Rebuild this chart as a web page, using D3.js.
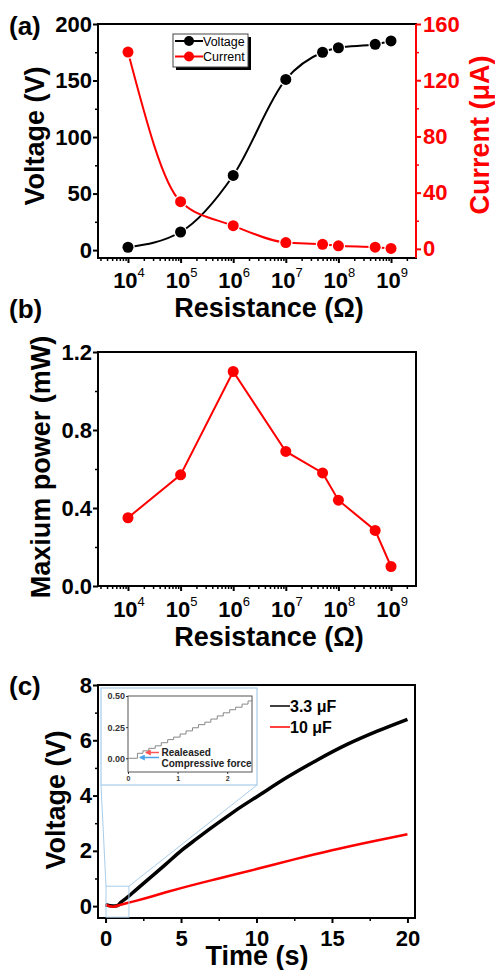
<!DOCTYPE html>
<html>
<head>
<meta charset="utf-8">
<script src="https://cdn.jsdelivr.net/npm/d3@7"></script>
<style>
body { margin: 0; background: #fff; }
svg text { font-family: "Liberation Sans", Arial, sans-serif; }
</style>
</head>
<body>
<div id="chart"></div>
<script>
// ---- data ----
var resistance = [1e4, 1e5, 1e6, 1e7, 5e7, 1e8, 5e8, 1e9];
var voltage = [2.5, 16, 66, 151, 175, 179, 182, 185];
var current = [140, 33.6, 16.5, 4.5, 3.2, 2.2, 1.2, 0.3];
var maxPower = [0.35, 0.57, 1.10, 0.69, 0.58, 0.44, 0.285, 0.10];

var decadeTicks = [1e4, 1e5, 1e6, 1e7, 1e8, 1e9];
var voltTicks = [0, 50, 100, 150, 200];
var currTicks = [0, 40, 80, 120, 160];
var powerTicks = [0, 0.4, 0.8, 1.2];

var timeBlack = [0, 0.5, 0.8, 1, 1.5, 2, 3, 4, 5, 6, 7, 8, 9, 10, 12, 14, 16, 18, 20];
var cap33 = [0.05, 0, 0.02, 0.13, 0.34, 0.58, 1.05, 1.52, 2.0, 2.42, 2.83, 3.22, 3.6, 3.95, 4.65, 5.28, 5.85, 6.33, 6.76];
var timeRed = [0, 0.5, 1, 1.5, 2, 3, 4, 5, 7.5, 10, 12.5, 15, 17.5, 20];
var cap10 = [0.05, -0.02, 0.05, 0.12, 0.19, 0.34, 0.5, 0.65, 1.0, 1.34, 1.69, 2.02, 2.32, 2.6];
var timeTicks = [0, 5, 10, 15, 20];
var chargeTicks = [0, 2, 4, 6, 8];

var insetTime = [0, 0.19, 0.30, 0.42, 0.55, 0.67, 0.80, 0.92, 1.05, 1.17, 1.30, 1.42, 1.55, 1.67, 1.80, 1.92, 2.05, 2.17, 2.30, 2.42, 2.5];
var insetLevel = [0, 0.04, 0.06, 0.08, 0.10, 0.125, 0.15, 0.17, 0.195, 0.22, 0.245, 0.27, 0.29, 0.315, 0.34, 0.365, 0.39, 0.41, 0.435, 0.46, 0.47];
var insetYTicks = [0, 0.25, 0.5];
var insetXTicks = [0, 1, 2];
var zoomTime = [0.03, 1.55];
var zoomVolt = [-0.4, 0.72];

var RED = "#ff0000";

var svg = d3.select("#chart").append("svg")
    .attr("width", 495)
    .attr("height", 970);

function frame(x0, x1, y0, y1) {
    svg.append("rect")
        .attr("x", x0).attr("y", y0)
        .attr("width", x1 - x0).attr("height", y1 - y0)
        .attr("fill", "none")
        .attr("stroke", "#000")
        .attr("stroke-width", 2);
}

function styleAxis(g, color, size) {
    g.select(".domain").remove();
    g.selectAll("line").attr("stroke", color).attr("stroke-width", 2);
    g.selectAll("text")
        .attr("fill", color)
        .style("font-size", size + "px")
        .style("font-weight", "bold");
}

function title(text, x, y, rotate, color) {
    svg.append("text")
        .attr("transform", "translate(" + x + "," + y + ")" + (rotate ? " rotate(-90)" : ""))
        .attr("text-anchor", "middle")
        .attr("fill", color || "#000")
        .style("font-size", "27px")
        .style("font-weight", "bold")
        .text(text);
}

function panelLabel(text, x, y) {
    svg.append("text").attr("x", x).attr("y", y)
        .style("font-size", "26px").style("font-weight", "bold").text(text);
}

function logAxis(x, yAxis, labelY) {
    var minor = x.ticks().filter(function(d) {
        return decadeTicks.indexOf(d) < 0;
    });
    var g = svg.append("g").attr("transform", "translate(0," + yAxis + ")");
    g.call(d3.axisBottom(x).tickValues(minor).tickSize(3).tickFormat(""));
    styleAxis(g, "#000", 10);
    g.selectAll("line").attr("stroke-width", 1.5);
    var g2 = svg.append("g").attr("transform", "translate(0," + yAxis + ")");
    g2.call(d3.axisBottom(x).tickValues(decadeTicks).tickSize(5).tickFormat(""));
    styleAxis(g2, "#000", 10);

    decadeTicks.forEach(function(d) {
        var t = svg.append("text")
            .attr("x", x(d) + 1).attr("y", labelY)
            .attr("text-anchor", "middle")
            .style("font-size", "22px").style("font-weight", "bold");
        t.append("tspan").text("10");
        t.append("tspan").attr("dy", -11).style("font-size", "13px").style("font-weight", "normal")
            .text(Math.round(Math.log10(d)));
    });
}

function minorTicks(scale, values, orient, pos, size, color) {
    var axis = orient === "left" ? d3.axisLeft(scale) : orient === "right" ? d3.axisRight(scale) : d3.axisBottom(scale);
    var g = svg.append("g").attr("transform", orient === "bottom" ? "translate(0," + pos + ")" : "translate(" + pos + ",0)");
    g.call(axis.tickValues(values).tickSize(size).tickFormat(""));
    styleAxis(g, color, 10);
    g.selectAll("line").attr("stroke-width", 1.5);
}

// ================= panel (a) =================
var xA = d3.scaleLog().domain([Math.pow(10, 3.43), Math.pow(10, 9.475)]).range([98, 416]);
var yV = d3.scaleLinear().domain([-7, 200]).range([258, 24]);
var yI = d3.scaleLinear().domain([-6.5, 160]).range([258, 24]);

frame(98, 416, 24, 258);
svg.append("line").attr("x1", 416).attr("x2", 416).attr("y1", 24).attr("y2", 258)
    .attr("stroke", RED).attr("stroke-width", 2);

var gVL = svg.append("g").attr("transform", "translate(98,0)");
gVL.call(d3.axisLeft(yV).tickValues(voltTicks).tickSize(5).tickPadding(1));
styleAxis(gVL, "#000", 22);
minorTicks(yV, [25, 75, 125, 175], "left", 98, 3, "#000");

var gIR = svg.append("g").attr("transform", "translate(416,0)");
gIR.call(d3.axisRight(yI).tickValues(currTicks).tickSize(5).tickPadding(2));
styleAxis(gIR, RED, 22);
minorTicks(yI, [20, 60, 100, 140], "right", 416, 3, RED);

logAxis(xA, 258, 288);

var lineV = d3.line().x(function(d, i) { return xA(resistance[i]); }).y(function(d) { return yV(d); }).curve(d3.curveMonotoneX);
var lineI = d3.line().x(function(d, i) { return xA(resistance[i]); }).y(function(d) { return yI(d); }).curve(d3.curveMonotoneX);

svg.append("path").datum(voltage).attr("d", lineV).attr("fill", "none").attr("stroke", "#000").attr("stroke-width", 2);
svg.append("path").datum(current).attr("d", lineI).attr("fill", "none").attr("stroke", RED).attr("stroke-width", 2);

svg.selectAll(".dotV").data(voltage).enter().append("circle")
    .attr("cx", function(d, i) { return xA(resistance[i]); })
    .attr("cy", function(d) { return yV(d); })
    .attr("r", 5.5).attr("fill", "#000").attr("stroke", "#fff").attr("stroke-width", 2.5)
    .attr("paint-order", "stroke");
svg.selectAll(".dotI").data(current).enter().append("circle")
    .attr("cx", function(d, i) { return xA(resistance[i]); })
    .attr("cy", function(d) { return yI(d); })
    .attr("r", 5.5).attr("fill", RED).attr("stroke", "#fff").attr("stroke-width", 2.5)
    .attr("paint-order", "stroke");

// legend (a)
svg.append("rect").attr("x", 176).attr("y", 37).attr("width", 75).attr("height", 33).attr("fill", "#000");
svg.append("rect").attr("x", 173).attr("y", 34).attr("width", 75).attr("height", 33)
    .attr("fill", "#fff").attr("stroke", "#444").attr("stroke-width", 1);
[["Voltage", "#000", 41], ["Current", RED, 56.5]].forEach(function(e) {
    svg.append("line").attr("x1", 175).attr("x2", 203).attr("y1", e[2]).attr("y2", e[2])
        .attr("stroke", e[1]).attr("stroke-width", 2);
    svg.append("circle").attr("cx", 189).attr("cy", e[2]).attr("r", 5).attr("fill", e[1]);
    svg.append("text").attr("x", 203).attr("y", e[2] + 4.5)
        .style("font-size", "12.5px").text(e[0]);
});

panelLabel("(a)", 9, 35);
title("Voltage (V)", 44, 136, true);
title("Current (\u03bcA)", 489, 135, true, RED);
title("Resistance (\u03a9)", 269, 317);

// ================= panel (b) =================
var yP = d3.scaleLinear().domain([0, 1.2]).range([586, 352]);
frame(98, 416, 352, 586);

var gPL = svg.append("g").attr("transform", "translate(98,0)");
gPL.call(d3.axisLeft(yP).tickValues(powerTicks).tickSize(5).tickPadding(1).tickFormat(d3.format(".1f")));
styleAxis(gPL, "#000", 22);
minorTicks(yP, [0.2, 0.6, 1.0], "left", 98, 3, "#000");

logAxis(xA, 586, 617);

var lineP = d3.line().x(function(d, i) { return xA(resistance[i]); }).y(function(d) { return yP(d); });
svg.append("path").datum(maxPower).attr("d", lineP).attr("fill", "none").attr("stroke", RED).attr("stroke-width", 2);
svg.selectAll(".dotP").data(maxPower).enter().append("circle")
    .attr("cx", function(d, i) { return xA(resistance[i]); })
    .attr("cy", function(d) { return yP(d); })
    .attr("r", 5.5).attr("fill", RED);

panelLabel("(b)", 9, 318);
title("Maxium power (mW)", 50, 467, true);
title("Resistance (\u03a9)", 269, 646);

// ================= panel (c) =================
var xT = d3.scaleLinear().domain([-0.5, 20.5]).range([98, 415]);
var yC = d3.scaleLinear().domain([-0.43, 8]).range([918, 685]);
frame(98, 415, 685, 918);

var gCL = svg.append("g").attr("transform", "translate(98,0)");
gCL.call(d3.axisLeft(yC).tickValues(chargeTicks).tickSize(5).tickPadding(1));
styleAxis(gCL, "#000", 22);
minorTicks(yC, [1, 3, 5, 7], "left", 98, 3, "#000");

var gCB = svg.append("g").attr("transform", "translate(0,918)");
gCB.call(d3.axisBottom(xT).tickValues(timeTicks).tickSize(5).tickPadding(7));
styleAxis(gCB, "#000", 22);
minorTicks(xT, [2.5, 7.5, 12.5, 17.5], "bottom", 918, 3, "#000");

var lineB = d3.line().x(function(d, i) { return xT(timeBlack[i]); }).y(function(d) { return yC(d); }).curve(d3.curveMonotoneX);
var lineR = d3.line().x(function(d, i) { return xT(timeRed[i]); }).y(function(d) { return yC(d); }).curve(d3.curveMonotoneX);
svg.append("path").datum(cap33).attr("d", lineB).attr("fill", "none").attr("stroke", "#000").attr("stroke-width", 3.5);
svg.append("path").datum(cap10).attr("d", lineR).attr("fill", "none").attr("stroke", RED).attr("stroke-width", 2.5);

// zoom box and connectors
var BLUE = "#a9cdea";
var zx0 = xT(zoomTime[0]), zx1 = xT(zoomTime[1]), zy0 = yC(zoomVolt[1]), zy1 = yC(zoomVolt[0]);
svg.append("rect").attr("x", zx0).attr("y", zy0).attr("width", zx1 - zx0).attr("height", zy1 - zy0)
    .attr("fill", "none").attr("stroke", BLUE).attr("stroke-width", 1);
svg.append("line").attr("x1", 101).attr("y1", 785).attr("x2", zx0).attr("y2", zy0).attr("stroke", BLUE).attr("stroke-width", 1);
svg.append("line").attr("x1", 257).attr("y1", 785).attr("x2", zx1).attr("y2", zy0).attr("stroke", BLUE).attr("stroke-width", 1);

// inset
svg.append("rect").attr("x", 101).attr("y", 688).attr("width", 156).attr("height", 97)
    .attr("fill", "#fff").attr("stroke", BLUE).attr("stroke-width", 1.2);
var xIn = d3.scaleLinear().domain([0, 2.5]).range([128, 252]);
var yIn = d3.scaleLinear().domain([-0.11, 0.5]).range([772, 696]);
svg.append("rect").attr("x", 128).attr("y", 696).attr("width", 124).attr("height", 76)
    .attr("fill", "none").attr("stroke", "#555").attr("stroke-width", 1);

var gInL = svg.append("g").attr("transform", "translate(128,0)");
gInL.call(d3.axisLeft(yIn).tickValues(insetYTicks).tickSize(2).tickPadding(1).tickFormat(d3.format(".2f")));
styleAxis(gInL, "#333", 9);
gInL.selectAll("line").attr("stroke-width", 1);
var gInB = svg.append("g").attr("transform", "translate(0,772)");
gInB.call(d3.axisBottom(xIn).tickValues(insetXTicks).tickSize(2).tickPadding(2).tickFormat(d3.format("d")));
styleAxis(gInB, "#333", 7);
gInB.selectAll("line").attr("stroke-width", 1);

var lineIn = d3.line().x(function(d, i) { return xIn(insetTime[i]); }).y(function(d) { return yIn(d); }).curve(d3.curveStepAfter);
svg.append("path").datum(insetLevel).attr("d", lineIn).attr("fill", "none").attr("stroke", "#888").attr("stroke-width", 1);

svg.append("defs").selectAll("marker").data([["headR", "#ff5555"], ["headB", "#4aa3e8"]]).enter()
    .append("marker").attr("id", function(d) { return d[0]; })
    .attr("viewBox", "0 0 10 10").attr("refX", 8).attr("refY", 5)
    .attr("markerWidth", 4).attr("markerHeight", 4).attr("orient", "auto")
    .append("path").attr("d", "M0,0 L10,5 L0,10 Z").attr("fill", function(d) { return d[1]; });
svg.append("line").attr("x1", 159).attr("x2", 146).attr("y1", 752.5).attr("y2", 752.5)
    .attr("stroke", "#ff5555").attr("stroke-width", 1.5).attr("marker-end", "url(#headR)");
svg.append("line").attr("x1", 159).attr("x2", 140).attr("y1", 757.5).attr("y2", 757.5)
    .attr("stroke", "#4aa3e8").attr("stroke-width", 1.5).attr("marker-end", "url(#headB)");
svg.append("text").attr("x", 161.5).attr("y", 756).style("font-size", "10px").style("font-weight", "bold").attr("fill", "#222").text("Realeased");
svg.append("text").attr("x", 161.5).attr("y", 767).style("font-size", "10px").style("font-weight", "bold").attr("fill", "#222").text("Compressive force");

// legend (c)
[["3.3 \u03bcF", "#000", 706], ["10 \u03bcF", RED, 727]].forEach(function(e) {
    svg.append("line").attr("x1", 270).attr("x2", 290).attr("y1", e[2]).attr("y2", e[2])
        .attr("stroke", e[1]).attr("stroke-width", 1.5);
    svg.append("text").attr("x", 290).attr("y", e[2] + 6)
        .style("font-size", "16px").style("font-weight", "bold").text(e[0]);
});

panelLabel("(c)", 9, 695);
title("Voltage (V)", 65, 800, true);
title("Time (s)", 257, 965);
</script>
</body>
</html>
